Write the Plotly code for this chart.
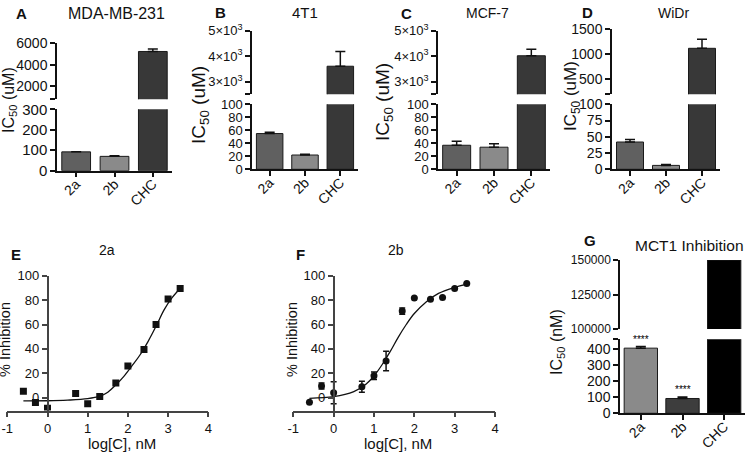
import plotly.graph_objects as go

# ---------------- data ----------------
CATS = ["2a", "2b", "CHC"]

A_VALS = [92, 70, 5240]
A_ERR = [0, 3, 220]
B_VALS = [55, 22, 3600]
B_ERR = [2, 1, 580]
C_VALS = [37, 34, 4010]
C_ERR = [6, 5.5, 260]
D_VALS = [42, 6, 1120]
D_ERR = [4, 1.5, 180]
G_VALS = [405, 92, 150000]
G_ERR = [10, 10, 0]

A_LOW_TICKS = [0, 100, 200, 300]
A_UP_TICKS = [2000, 4000, 6000]
BC_LOW_TICKS = [0, 20, 40, 60, 80, 100]
BC_UP_TICKS = [3000, 4000, 5000]
BC_UP_LABELS = ["3×10<sup>3</sup>", "4×10<sup>3</sup>", "5×10<sup>3</sup>"]
D_LOW_TICKS = [0, 25, 50, 75, 100]
D_UP_TICKS = [500, 1000, 1500]
G_LOW_TICKS = [0, 100, 200, 300, 400]
G_UP_TICKS = [100000, 125000, 150000]

E_X = [-0.6, -0.3, 0.0, 0.7, 1.0, 1.3, 1.7, 2.0, 2.4, 2.7, 3.0, 3.3]
E_Y = [5.2, -4.0, -8.7, 3.5, -5.0, 1.0, 12.0, 26.0, 39.6, 60.0, 81.0, 89.6]
E_FIT_X = [-0.6, 0.0, 0.5, 1.0, 1.3, 1.5, 1.7, 1.9, 2.1, 2.3, 2.5, 2.7, 2.9, 3.1, 3.3]
E_FIT_Y = [-2.6, -2.5, -2.0, -0.8, 1.2, 4.5, 10.5, 17.5, 26, 35, 46, 58.5, 72, 82, 89.5]

F_X = [-0.6, -0.3, 0.0, 0.7, 1.0, 1.3, 1.7, 2.0, 2.4, 2.7, 3.0, 3.3]
F_Y = [-3.8, 9.6, 4.0, 9.0, 18.0, 30.0, 71.0, 81.7, 80.6, 82.2, 89.6, 93.7]
F_ERR = [0, 2.5, 9, 4.5, 3, 8, 2.5, 0, 0, 0, 0, 0]
F_FIT_X = [-0.6, 0.0, 0.5, 0.8, 1.0, 1.2, 1.4, 1.6, 1.8, 2.0, 2.3, 2.6, 3.0, 3.3]
F_FIT_Y = [-0.5, 0.8, 5, 11, 17.8, 27, 37.7, 49.5, 60, 69, 78.7, 85.5, 90.4, 93]

CURVE_Y_TICKS = [0, 20, 40, 60, 80, 100]
CURVE_X_TICKS = [-1, 0, 1, 2, 3, 4]

TOP_COLORS = ["#606060", "#8a8a8a", "#383838"]
G_COLORS = ["#8a8a8a", "#3d3d3d", "#000000"]

# ---------------- layout helpers ----------------
W, H = 752, 453
FONT = "Arial, Liberation Sans, sans-serif"

fig = go.Figure()
layout = dict(width=W, height=H,
              margin=dict(l=0, r=0, t=0, b=0, pad=0, autoexpand=False),
              paper_bgcolor="white", plot_bgcolor="white", showlegend=False,
              font=dict(family=FONT, color="#111"), hovermode=False)
annotations = []
counter = [0]


def fx(p):
    return p / W


def fy(p):
    return 1 - p / H


def axis_style(size=14, color="#111", width=1.5):
    return dict(showline=True, linecolor=color, linewidth=width, ticks="outside",
                ticklen=5, tickwidth=width, tickcolor=color, showgrid=False,
                zeroline=False, automargin=False,
                tickfont=dict(size=size, family=FONT, color="#111"))


def add_axes(xd, yd, xkw, ykw):
    counter[0] += 1
    s = "" if counter[0] == 1 else str(counter[0])
    layout["xaxis" + s] = dict(domain=[fx(xd[0]), fx(xd[1])], anchor="y" + s, **xkw)
    yk = dict(domain=[fy(yd[0]), fy(yd[1])], anchor="x" + s)
    yk.update(ykw)
    layout["yaxis" + s] = yk
    return "x" + s, "y" + s


def ann(text, x, y, size, bold=False, angle=0):
    annotations.append(dict(text=("<b>%s</b>" % text) if bold else text,
                            x=fx(x), y=fy(y), xref="paper", yref="paper",
                            showarrow=False, textangle=angle,
                            xanchor="center", yanchor="middle",
                            font=dict(size=size, family=FONT, color="#111")))


def bar_panel(vals, errs, colors, xd, low, up, bar_w=0.75, ylow_size=14, yup_size=14):
    # low / up: (range, (bottom_px, top_px), tickvals, ticktext)
    lx = axis_style(14)
    lx.update(type="category", range=[-0.5, 2.5], tickangle=-45,
              ticklabelstandoff=-7,
              categoryorder="array", categoryarray=CATS)
    ly = axis_style(ylow_size)
    ly.update(range=low[0], tickvals=low[2], ticktext=low[3])
    xa, ya = add_axes(xd, low[1], lx, ly)
    ux = dict(visible=False, type="category", range=[-0.5, 2.5], automargin=False,
              categoryorder="array", categoryarray=CATS)
    uy = axis_style(yup_size)
    uy.update(range=up[0], tickvals=up[2], ticktext=up[3])
    xb, yb = add_axes(xd, up[1], ux, uy)
    for (xx, yy) in [(xa, ya), (xb, yb)]:
        fig.add_trace(go.Bar(
            x=CATS, y=vals, width=bar_w,
            marker=dict(color=colors, line=dict(color="#1a1a1a", width=1)),
            error_y=dict(type="data", symmetric=False, array=errs,
                         arrayminus=[0] * len(errs), color="#111",
                         thickness=1.5, width=5),
            xaxis=xx, yaxis=yy))
    return xa, ya


def with_break(ticks, labels, lo=None, hi=None):
    tv, tt = list(ticks), list(labels)
    if lo is not None:
        tv = [lo] + tv
        tt = [""] + tt
    if hi is not None:
        tv = tv + [hi]
        tt = tt + [""]
    return tv, tt


def num_labels(ticks):
    return [str(t) for t in ticks]


# ---------------- panel A ----------------
tv, tt = with_break(A_UP_TICKS, num_labels(A_UP_TICKS), lo=800)
bar_panel(A_VALS, A_ERR, TOP_COLORS, (57, 172),
          ([0, 300], (170.7, 109.3), A_LOW_TICKS, num_labels(A_LOW_TICKS)),
          ([800, 6000], (99.3, 43.3), tv, tt), ylow_size=15, yup_size=14)
ann("A", 21, 13, 15, bold=True)
ann("MDA-MB-231", 116, 13, 16)
ann("IC<sub>50</sub> (uM)", 9, 100, 16, angle=-90)

# ---------------- panel B ----------------
tv, tt = with_break(BC_UP_TICKS, BC_UP_LABELS, lo=2500)
bar_panel(B_VALS, B_ERR, TOP_COLORS, (252, 358),
          ([0, 100], (169.3, 104.3), BC_LOW_TICKS, num_labels(BC_LOW_TICKS)),
          ([2500, 5000], (94.3, 30.5), tv, tt), ylow_size=13, yup_size=13)
ann("B", 220, 12, 15, bold=True)
ann("4T1", 305, 12, 15)
ann("IC<sub>50</sub> (uM)", 200, 105, 19, angle=-90)

# ---------------- panel C ----------------
tv, tt = with_break(BC_UP_TICKS, BC_UP_LABELS, lo=2500)
bar_panel(C_VALS, C_ERR, TOP_COLORS, (438, 550),
          ([0, 100], (169.3, 104.3), BC_LOW_TICKS, num_labels(BC_LOW_TICKS)),
          ([2500, 5000], (94.3, 30.5), tv, tt), ylow_size=13, yup_size=13)
ann("C", 406, 13, 15, bold=True)
ann("MCF-7", 487, 13, 14)
ann("IC<sub>50</sub> (uM)", 384, 102, 19, angle=-90)

# ---------------- panel D ----------------
tv, tt = with_break(D_UP_TICKS, num_labels(D_UP_TICKS), lo=200)
bar_panel(D_VALS, D_ERR, TOP_COLORS, (612, 720),
          ([0, 100], (169.3, 104.3), D_LOW_TICKS, num_labels(D_LOW_TICKS)),
          ([200, 1500], (94.3, 29.3), tv, tt))
ann("D", 587, 12, 15, bold=True)
ann("WiDr", 673, 13, 14)
ann("IC<sub>50</sub> (uM)", 572, 96, 17, angle=-90)


# ---------------- panels E / F ----------------
def curve_panel(xd, px_, py_, fit_x, fit_y, symbol, err=None):
    xr = [-1, 4]
    yr = [-10.5, 100]
    ydom = (410.5, 275.7)
    zero_px = xd[0] + (xd[1] - xd[0]) * (0 - xr[0]) / (xr[1] - xr[0])
    xk = axis_style(13, color="#444", width=1.5)
    xk.update(range=xr, tickvals=CURVE_X_TICKS, ticktext=num_labels(CURVE_X_TICKS))
    yk = axis_style(13, color="#444", width=1.5)
    yk.update(range=yr, tickvals=CURVE_Y_TICKS, ticktext=num_labels(CURVE_Y_TICKS),
              anchor="free", position=fx(zero_px))
    xa, ya = add_axes(xd, ydom, xk, yk)
    fig.add_trace(go.Scatter(x=fit_x, y=fit_y, mode="lines",
                             line=dict(color="#111", width=1.3, shape="spline"),
                             xaxis=xa, yaxis=ya))
    ek = None
    if err is not None:
        ek = dict(type="data", array=err, color="#111", thickness=1.5, width=3)
    fig.add_trace(go.Scatter(x=px_, y=py_, mode="markers",
                             marker=dict(symbol=symbol, size=7, color="#111"),
                             error_y=ek, xaxis=xa, yaxis=ya))


curve_panel((7.3, 208.3), E_X, E_Y, E_FIT_X, E_FIT_Y, "square")
ann("E", 16, 254, 15, bold=True)
ann("2a", 107, 250, 14)
ann("% Inhibition", 5, 340, 14.5, angle=-90)
ann("log[C], nM", 122, 443, 15)

curve_panel((293.3, 495), F_X, F_Y, F_FIT_X, F_FIT_Y, "circle", err=F_ERR)
ann("F", 300, 254, 15, bold=True)
ann("2b", 396, 250, 14)
ann("% Inhibition", 292, 340, 14.5, angle=-90)
ann("log[C], nM", 398, 443, 15)

# ---------------- panel G ----------------
tv_l, tt_l = with_break(G_LOW_TICKS, num_labels(G_LOW_TICKS), hi=460)
gx, gy = bar_panel(G_VALS, G_ERR, G_COLORS, (620, 745),
                   ([0, 460], (413.3, 339.3), tv_l, tt_l),
                   ([100000, 150000], (329, 260), G_UP_TICKS, num_labels(G_UP_TICKS)),
                   bar_w=0.8, ylow_size=14, yup_size=12)
for i in range(2):
    annotations.append(dict(text="****", x=CATS[i], y=G_VALS[i] + G_ERR[i],
                            xref=gx, yref=gy, showarrow=False, yanchor="bottom",
                            font=dict(size=10, family=FONT, color="#000")))
ann("G", 590, 240, 15, bold=True)
ann("MCT1 Inhibition", 689, 245, 15.5)
ann("IC<sub>50</sub> (nM)", 557, 342, 16, angle=-90)

layout["annotations"] = annotations
fig.update_layout(**layout)
fig.write_html("out.html", config={"displayModeBar": False},
               post_script="document.body.style.margin='0px';")
